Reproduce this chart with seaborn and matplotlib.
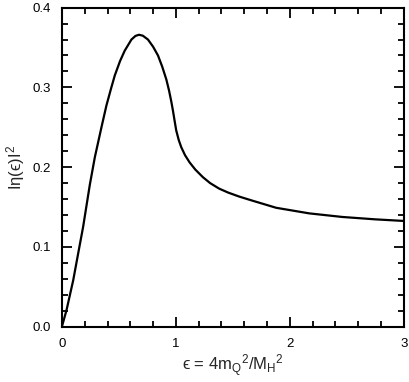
import numpy as np
import pandas as pd
import seaborn as sns
import matplotlib.pyplot as plt
from matplotlib.ticker import MultipleLocator

# values
eps = [0.0, 0.041, 0.099, 0.143, 0.186, 0.245, 0.289, 0.347, 0.39, 0.43,
       0.464, 0.51, 0.551, 0.61, 0.645, 0.676, 0.71, 0.755, 0.80, 0.843,
       0.88, 0.916, 0.94, 0.96, 0.974, 0.99, 1.003, 1.025, 1.047, 1.08,
       1.12, 1.17, 1.236, 1.30, 1.38, 1.46, 1.557, 1.67, 1.88, 2.17,
       2.46, 2.75, 3.0]
eta_sq = [0.0, 0.021, 0.058, 0.092, 0.125, 0.178, 0.2125, 0.25, 0.277, 0.298,
          0.315, 0.333, 0.346, 0.36, 0.3645, 0.366, 0.3648, 0.36, 0.351, 0.34,
          0.326, 0.31, 0.296, 0.282, 0.271, 0.257, 0.246, 0.234, 0.225, 0.215,
          0.206, 0.197, 0.1875, 0.18, 0.173, 0.168, 0.163, 0.158, 0.149, 0.142,
          0.1375, 0.1345, 0.1325]

x_ticks = [0, 1, 2, 3]
y_ticks = [0.0, 0.1, 0.2, 0.3, 0.4]

sns.set_theme(style="ticks")
plt.rcParams["font.family"] = ["Liberation Sans", "DejaVu Sans"]
plt.rcParams["mathtext.fontset"] = "custom"
plt.rcParams["mathtext.rm"] = "Liberation Sans"
plt.rcParams["mathtext.it"] = "Liberation Sans:italic"

df = pd.DataFrame({"eps": eps, "eta_sq": eta_sq})

fig = plt.figure(figsize=(4.1, 3.82), dpi=100)
ax = fig.add_axes([0.151, 0.145, 0.834, 0.835])
sns.lineplot(data=df, x="eps", y="eta_sq", color="black", linewidth=1.6, ax=ax)

ax.set_xlim(0, 3)
ax.set_ylim(0, 0.4)
ax.set_xticks(x_ticks)
ax.set_xticklabels([str(t) for t in x_ticks])
ax.set_yticks(y_ticks)
ax.set_yticklabels([f"{t:.1f}" for t in y_ticks])
ax.xaxis.set_minor_locator(MultipleLocator(0.2))
ax.yaxis.set_minor_locator(MultipleLocator(0.02))
ax.tick_params(which="both", direction="in", top=True, right=True, width=1.3,
               colors="black", labelsize=9.5)
ax.tick_params(which="major", length=7, pad=8)
ax.tick_params(which="minor", length=4)
for s in ax.spines.values():
    s.set_linewidth(1.5)
    s.set_color("black")

ax.set_xlabel("ϵ = 4m$_\\mathregular{Q}$$^\\mathregular{2}$/M$_\\mathregular{H}$$^\\mathregular{2}$",
              fontsize=12, labelpad=2)
ax.set_ylabel("Iη(ϵ)I$^\\mathregular{2}$", fontsize=12, labelpad=4)

fig.savefig("out.png", dpi=100)
